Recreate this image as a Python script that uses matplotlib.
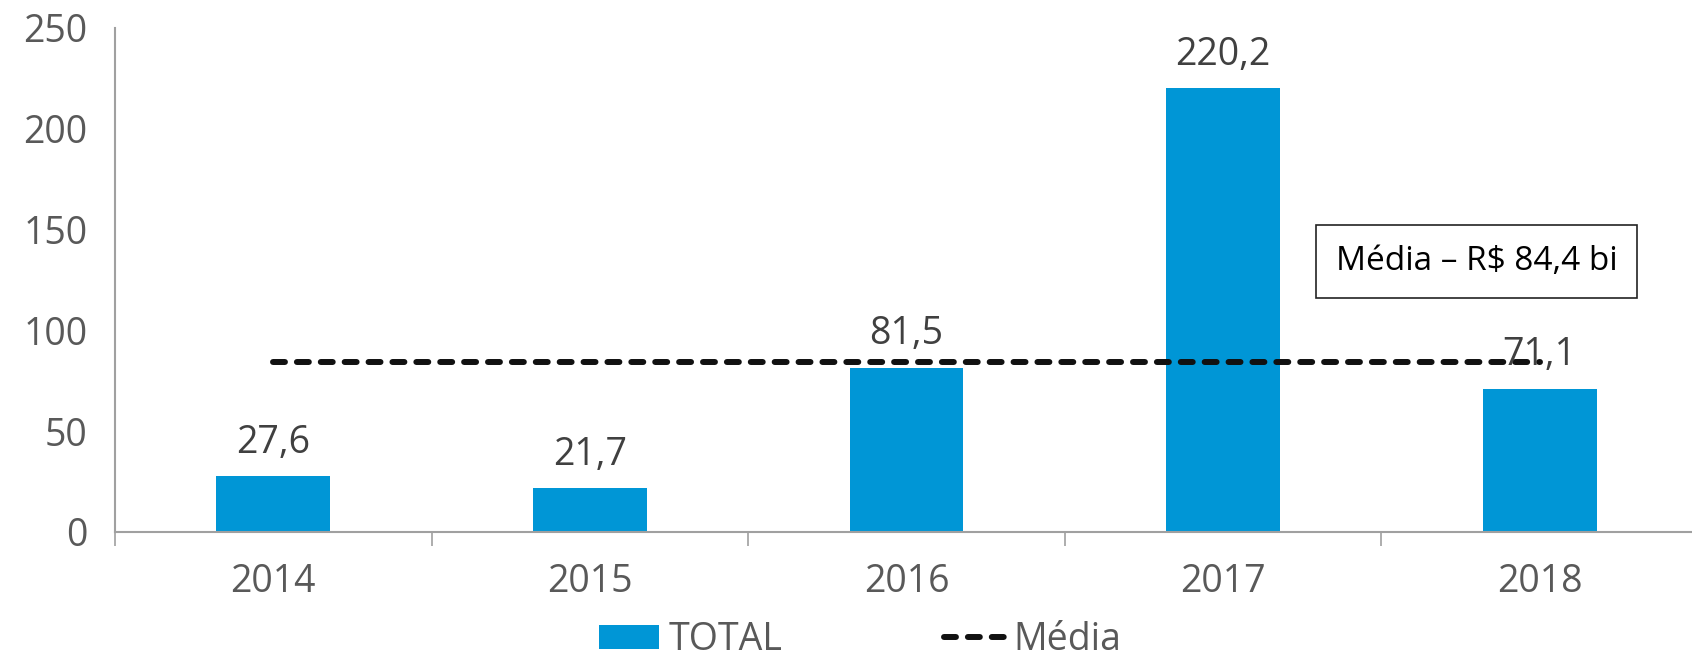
import matplotlib
matplotlib.use("Agg")
import matplotlib.pyplot as plt
from matplotlib.patches import Patch
from matplotlib.lines import Line2D

plt.rcParams['font.family'] = ['Open Sans', 'DejaVu Sans']

# data
years = ['2014', '2015', '2016', '2017', '2018']
total = [27.6, 21.7, 81.5, 220.2, 71.1]
media = 84.4
total_labels = ['27,6', '21,7', '81,5', '220,2', '71,1']
media_text = 'Média – R$ 84,4 bi'

bar_color = '#0096d6'
axis_color = '#a0a0a0'
tick_color = '#595959'

fig = plt.figure(figsize=(16.92, 6.56), dpi=100)
ax = fig.add_axes([115 / 1692, 124 / 656, 1583 / 1692, 504 / 656])

x = list(range(len(years)))
ax.bar(x, total, width=0.36, color=bar_color, zorder=2)

for xi, v, lab in zip(x, total, total_labels):
    ax.annotate(lab, (xi, v), xytext=(0, 24), textcoords='offset points',
                ha='center', va='center', fontsize=27, color='#404040', zorder=4)

ax.plot([x[0], x[-1]], [media, media], color='#111111', lw=4.3,
        dashes=(2, 2), dash_capstyle='round', zorder=3)

ax.text(3.8, 134.4, media_text, ha='center', va='center', fontsize=24, color='black',
        bbox=dict(boxstyle='square,pad=0.6', facecolor='white', edgecolor='#222222', lw=1.2),
        zorder=5)

ax.set_xlim(-0.5, len(years) - 0.5)
ax.set_ylim(0, 250)
ax.set_yticks([0, 50, 100, 150, 200, 250])
ax.set_xticks(x)
ax.set_xticklabels(years)
ax.set_xticks([i - 0.5 for i in range(len(years) + 1)], minor=True)

ax.tick_params(axis='y', length=0, labelsize=27, colors=tick_color, pad=20)
ax.tick_params(axis='x', which='major', length=0, labelsize=27, colors=tick_color, pad=22)
ax.tick_params(axis='x', which='minor', length=10, width=1.2, color=axis_color)

for side in ['top', 'right']:
    ax.spines[side].set_visible(False)
for side in ['left', 'bottom']:
    ax.spines[side].set_color(axis_color)
    ax.spines[side].set_linewidth(1.5)

handles = [Patch(facecolor=bar_color, edgecolor='none'),
           Line2D([0], [0], color='#111111', lw=4.3, dashes=(2, 2), dash_capstyle='round')]
fig.legend(handles, ['TOTAL', 'Média'], loc='center', bbox_to_anchor=(860 / 1692, 1 - 640 / 656),
           ncol=2, frameon=False, fontsize=27, labelcolor=tick_color,
           handlelength=1.6, handleheight=0.6, handletextpad=0.25, columnspacing=4.3)

fig.savefig('out.png', dpi=100)
